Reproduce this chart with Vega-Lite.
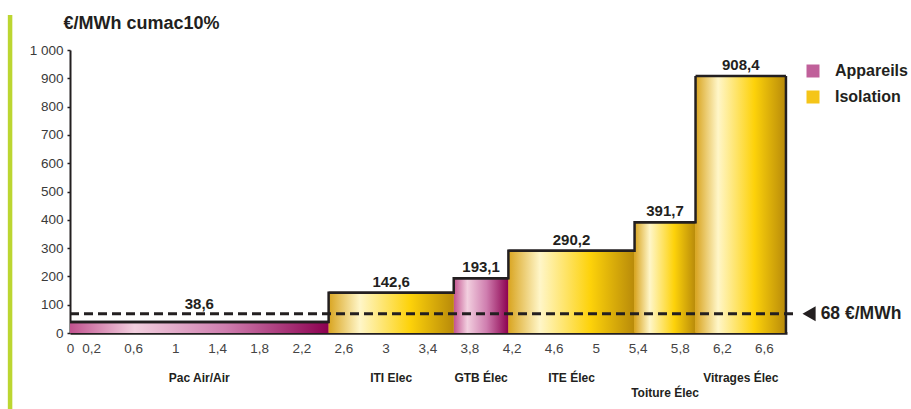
{
  "$schema": "https://vega.github.io/schema/vega-lite/v6.json",
  "autosize": "none",
  "width": 717,
  "height": 283,
  "padding": {"left": 70, "top": 50, "right": 124, "bottom": 76},
  "background": "white",
  "config": {
    "view": {"stroke": null},
    "font": "Liberation Sans",
    "locale": {"number": {"decimal": ",", "thousands": " ", "grouping": [3], "currency": ["", " €"]}}
  },
  "datasets": {
    "bars": [
      {"name": "Pac Air/Air", "x0": 0, "x1": 2.46, "value": 38.6, "type": "Appareils"},
      {"name": "ITI Elec", "x0": 2.46, "x1": 3.65, "value": 142.6, "type": "Isolation"},
      {"name": "GTB Élec", "x0": 3.65, "x1": 4.17, "value": 193.1, "type": "Appareils"},
      {"name": "ITE Élec", "x0": 4.17, "x1": 5.37, "value": 290.2, "type": "Isolation"},
      {"name": "Toiture Élec", "x0": 5.37, "x1": 5.95, "value": 391.7, "type": "Isolation"},
      {"name": "Vitrages Élec", "x0": 5.95, "x1": 6.81, "value": 908.4, "type": "Isolation"}
    ],
    "one": [{}]
  },
  "data": {"name": "bars"},
  "layer": [
    {
      "mark": {"type": "rect"},
      "encoding": {
        "x": {
          "field": "x0", "type": "quantitative",
          "scale": {"domain": [0, 6.82], "nice": false, "zero": false},
          "axis": {
            "values": [0, 0.2, 0.6, 1, 1.4, 1.8, 2.2, 2.6, 3, 3.4, 3.8, 4.2, 4.6, 5, 5.4, 5.8, 6.2, 6.6],
            "tickCount": 30,
            "format": ".1~f",
            "title": null,
            "grid": false,
            "ticks": false,
            "domainColor": "#231f20",
            "domainWidth": 2.5,
            "labelFontSize": 13.5,
            "labelColor": "#444444",
            "labelPadding": 8,
            "labelFlush": false,
            "labelOverlap": false
          }
        },
        "x2": {"field": "x1"},
        "y": {
          "field": "value", "type": "quantitative",
          "scale": {"domain": [0, 1000], "nice": false},
          "axis": {
            "values": [0, 100, 200, 300, 400, 500, 600, 700, 800, 900, 1000],
            "tickCount": 20,
            "format": ",d",
            "title": "€/MWh cumac10%",
            "titleAngle": 0,
            "titleAlign": "left",
            "titleBaseline": "alphabetic",
            "titleX": -7,
            "titleY": -22,
            "titleFontSize": 18,
            "titleFontWeight": "bold",
            "titleColor": "#231f20",
            "grid": false,
            "domainColor": "#231f20",
            "domainWidth": 2,
            "tickColor": "#231f20",
            "tickSize": 3,
            "tickWidth": 1.5,
            "labelFontSize": 13.5,
            "labelColor": "#3a3a3a",
            "labelPadding": 4,
            "labelOverlap": false
          }
        },
        "y2": {"datum": 0},
        "fill": {
          "field": "type", "type": "nominal",
          "scale": {"domain": ["Appareils", "Isolation"], "range": ["#c0609a", "#f5c518"]},
          "legend": {
            "title": null,
            "orient": "none",
            "legendX": 735,
            "legendY": 13,
            "symbolType": "square",
            "symbolSize": 169,
            "symbolStrokeWidth": 0,
            "labelFontSize": 16,
            "labelFontWeight": "bold",
            "labelColor": "#231f20",
            "labelOffset": 14,
            "rowPadding": 10
          }
        }
      }
    },
    {
      "transform": [{"filter": "datum.type == 'Appareils'"}],
      "mark": {
        "type": "rect",
        "fill": {
          "gradient": "linear", "x1": 0, "y1": 0, "x2": 1, "y2": 0,
          "stops": [
            {"offset": 0, "color": "#c2528f"},
            {"offset": 0.25, "color": "#f2cfdf"},
            {"offset": 0.6, "color": "#cf7eaf"},
            {"offset": 1, "color": "#8c0050"}
          ]
        }
      },
      "encoding": {
        "x": {"field": "x0", "type": "quantitative"},
        "x2": {"field": "x1"},
        "y": {"field": "value", "type": "quantitative"},
        "y2": {"datum": 0}
      }
    },
    {
      "transform": [{"filter": "datum.type == 'Isolation'"}],
      "mark": {
        "type": "rect",
        "fill": {
          "gradient": "linear", "x1": 0, "y1": 0, "x2": 1, "y2": 0,
          "stops": [
            {"offset": 0, "color": "#d9a521"},
            {"offset": 0.25, "color": "#fff6c8"},
            {"offset": 0.65, "color": "#fdd20a"},
            {"offset": 1, "color": "#b88a0a"}
          ]
        }
      },
      "encoding": {
        "x": {"field": "x0", "type": "quantitative"},
        "x2": {"field": "x1"},
        "y": {"field": "value", "type": "quantitative"},
        "y2": {"datum": 0}
      }
    },
    {
      "mark": {"type": "line", "interpolate": "step-after", "color": "#231f20", "strokeWidth": 2.5},
      "encoding": {
        "x": {"field": "x0", "type": "quantitative"},
        "y": {"field": "value", "type": "quantitative"},
        "order": {"field": "x0"}
      }
    },
    {
      "mark": {"type": "rule", "color": "#231f20", "strokeWidth": 2.5},
      "encoding": {
        "x": {"field": "x0", "type": "quantitative"},
        "x2": {"field": "x1"},
        "y": {"field": "value", "type": "quantitative"}
      }
    },
    {
      "transform": [{"filter": "datum.name == 'Vitrages Élec'"}],
      "mark": {"type": "rule", "color": "#231f20", "strokeWidth": 2.5},
      "encoding": {
        "x": {"field": "x1", "type": "quantitative"},
        "y": {"field": "value", "type": "quantitative"},
        "y2": {"datum": 0}
      }
    },
    {
      "data": {"name": "one"},
      "mark": {"type": "rule", "color": "#231f20", "strokeWidth": 3, "strokeDash": [9, 5]},
      "encoding": {
        "x": {"datum": 0, "type": "quantitative"},
        "x2": {"datum": 6.91},
        "y": {"datum": 68, "type": "quantitative"}
      }
    },
    {
      "data": {"name": "one"},
      "mark": {"type": "point", "shape": "triangle-left", "filled": true, "color": "#231f20", "size": 230, "opacity": 1},
      "encoding": {
        "x": {"datum": 7.03, "type": "quantitative"},
        "y": {"datum": 68, "type": "quantitative"}
      }
    },
    {
      "data": {"name": "one"},
      "mark": {"type": "text", "align": "left", "baseline": "middle", "fontSize": 17.5, "fontWeight": "bold", "color": "#231f20", "text": "68 €/MWh"},
      "encoding": {
        "x": {"datum": 7.14, "type": "quantitative"},
        "y": {"datum": 68, "type": "quantitative"}
      }
    },
    {
      "transform": [{"filter": "datum.name != 'Pac Air/Air'"}, {"calculate": "(datum.x0 + datum.x1) / 2", "as": "xc"}],
      "mark": {"type": "text", "baseline": "bottom", "dy": -3, "fontSize": 15, "fontWeight": "bold", "color": "#231f20"},
      "encoding": {
        "x": {"field": "xc", "type": "quantitative"},
        "y": {"field": "value", "type": "quantitative"},
        "text": {"field": "value", "type": "quantitative", "format": ".1f"}
      }
    },
    {
      "transform": [{"filter": "datum.name == 'Pac Air/Air'"}, {"calculate": "(datum.x0 + datum.x1) / 2", "as": "xc"}],
      "mark": {"type": "text", "baseline": "bottom", "dy": -10, "fontSize": 15, "fontWeight": "bold", "color": "#231f20"},
      "encoding": {
        "x": {"field": "xc", "type": "quantitative"},
        "y": {"field": "value", "type": "quantitative"},
        "text": {"field": "value", "type": "quantitative", "format": ".1f"}
      }
    },
    {
      "transform": [{"filter": "datum.name != 'Toiture Élec'"}, {"calculate": "(datum.x0 + datum.x1) / 2", "as": "xc"}],
      "mark": {"type": "text", "baseline": "middle", "dy": 45, "fontSize": 12, "fontWeight": "bold", "color": "#231f20"},
      "encoding": {
        "x": {"field": "xc", "type": "quantitative"},
        "y": {"datum": 0, "type": "quantitative"},
        "text": {"field": "name", "type": "nominal"}
      }
    },
    {
      "transform": [{"filter": "datum.name == 'Toiture Élec'"}, {"calculate": "(datum.x0 + datum.x1) / 2", "as": "xc"}],
      "mark": {"type": "text", "baseline": "middle", "dy": 60, "fontSize": 12, "fontWeight": "bold", "color": "#231f20"},
      "encoding": {
        "x": {"field": "xc", "type": "quantitative"},
        "y": {"datum": 0, "type": "quantitative"},
        "text": {"field": "name", "type": "nominal"}
      }
    },
    {
      "data": {"name": "one"},
      "mark": {"type": "rule", "strokeWidth": 4.5, "color": "#bcd631"},
      "encoding": {
        "x": {"datum": -0.57, "type": "quantitative"},
        "y": {"datum": 1124, "type": "quantitative"},
        "y2": {"datum": -270}
      }
    }
  ]
}
